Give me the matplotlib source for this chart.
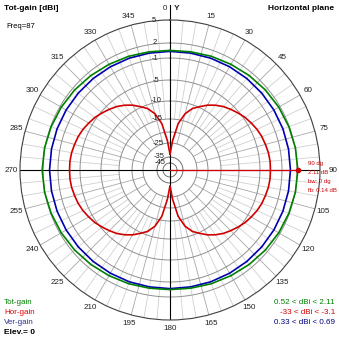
import numpy as np
import matplotlib
matplotlib.use('Agg')
import matplotlib.pyplot as plt

plt.rcParams['font.family'] = ['Liberation Sans', 'DejaVu Sans']

# ---------------- data ----------------
angles_5 = list(range(0, 360, 5))
hor_gain = [-33, -24, -16.5, -13, -11, -9.8, -8.6, -7.6, -6.7, -6.0, -5.3, -4.7, -4.3, -3.9, -3.6, -3.4, -3.2, -3.1,
            -3.1, -3.1, -3.2, -3.4, -3.6, -3.9, -4.3, -4.7, -5.3, -6.0, -6.7, -7.6, -8.6, -9.8, -11, -13, -16.5, -24,
            -33, -24, -16.5, -13, -11, -9.8, -8.6, -7.6, -6.7, -6.0, -5.3, -4.7, -4.3, -3.9, -3.6, -3.4, -3.2, -3.1,
            -3.1, -3.1, -3.2, -3.4, -3.6, -3.9, -4.3, -4.7, -5.3, -6.0, -6.7, -7.6, -8.6, -9.8, -11, -13, -16.5, -24]
angles_10 = list(range(0, 360, 10))
tot_gain = [0.52, 0.6, 0.8, 1.0, 1.25, 1.5, 1.72, 1.9, 2.05, 2.11, 2.05, 1.9, 1.72, 1.5, 1.25, 1.0, 0.8, 0.6,
            0.52, 0.6, 0.8, 1.0, 1.25, 1.5, 1.72, 1.9, 2.05, 2.11, 2.05, 1.9, 1.72, 1.5, 1.25, 1.0, 0.8, 0.6]
ver_gain = [0.33, 0.34, 0.40, 0.44, 0.49, 0.54, 0.59, 0.64, 0.67, 0.69, 0.67, 0.64, 0.59, 0.54, 0.49, 0.44, 0.40, 0.34,
            0.33, 0.34, 0.40, 0.44, 0.49, 0.54, 0.59, 0.64, 0.67, 0.69, 0.67, 0.64, 0.59, 0.54, 0.49, 0.44, 0.40, 0.34]
ring_db = [2, -1, -5, -10, -15, -20, -25, -35, -45]
ring_labels = ['5', '2', '-1', '-5', '-10', '-15', '-25', '-35', '-45']
ring_label_db = [5, 2, -1, -5, -10, -15, -25, -35, -45]
angle_ticks = list(range(15, 360, 15))
marker_angle = 90
marker_gain = 2.11
stats = ['0.52 < dBi < 2.11', '-33 < dBi < -3.1', '0.33 < dBi < 0.69']
legend = ['Tot-gain', 'Hor-gain', 'Ver-gain']

# ---------------- styles / scale ----------------
GREEN = '#008000'
RED = '#d00000'
BLUE = '#0000b0'
W = H = 339
CX, CY, R = 170, 170, 150

db_knots = [-60, -45, -35, -25, -20, -15, -10, -5, -1, 2, 5, 20]
px_knots = [0, 7, 13, 27, 38, 51, 69, 90, 112, 127, 150, 265]

def fwd(x):
    return np.interp(x, db_knots, px_knots)

def inv(y):
    return np.interp(y, px_knots, db_knots)

fig = plt.figure(figsize=(W / 100, H / 100), dpi=100)
fig.patch.set_facecolor('white')

def fx(x):
    return x / W

def fy(y):
    return 1 - y / H

ax = fig.add_axes([fx(CX - R), fy(CY + R), 2 * R / W, 2 * R / H], projection='polar')
ax.set_theta_zero_location('N')
ax.set_theta_direction(-1)
ax.set_rscale('function', functions=(fwd, inv))
ax.set_rlim(-60, 5)
ax.set_xticks([])
ax.set_yticks([])
ax.grid(False)
ax.spines['polar'].set_color('#404040')
ax.spines['polar'].set_linewidth(0.8)

th = np.linspace(0, 2 * np.pi, 721)
# spokes
for a in range(0, 360, 5):
    if a % 90 == 0:
        continue
    if a % 15 == 0:
        ax.plot([np.deg2rad(a)] * 2, [-25, 5], color='#a8a8a8', lw=0.6, zorder=1)
    else:
        ax.plot([np.deg2rad(a)] * 2, [-15, 5], color='#d0d0d0', lw=0.6, zorder=1)
# rings
for d in ring_db:
    col = '#909090' if d > -30 else '#707070'
    ax.plot(th, np.full_like(th, d), color=col, lw=0.7, zorder=1)

# axes lines
for a in (0, 90, 180, 270):
    ax.plot([np.deg2rad(a)] * 2, [-60, 5], color='black', lw=0.8, zorder=2)
ax.plot([0, 0], [5, 7], color='black', lw=0.8, zorder=2, clip_on=False)

# patterns
t5 = np.deg2rad(angles_5 + [360])
t10 = np.deg2rad(angles_10 + [360])
ax.plot(t10, tot_gain + tot_gain[:1], color=GREEN, lw=1.2, zorder=4)
ax.plot(t10, ver_gain + ver_gain[:1], color=BLUE, lw=1.2, zorder=3)
ax.plot(t5, hor_gain + hor_gain[:1], color=RED, lw=1.2, zorder=5)

# marker
ax.plot([np.deg2rad(marker_angle)] * 2, [-60, marker_gain], color=RED, lw=0.9, zorder=6)
ax.plot([np.deg2rad(marker_angle)], [marker_gain], 'o', color=RED, ms=3, zorder=7)

# ring labels
for lab, d in zip(ring_labels, ring_label_db):
    r = fwd(d)
    fig.text(fx(166 - 0.07 * r), fy(CY - r), lab, ha='right', va='center', fontsize=5.5, color='#202020')

# angle labels
rl = 159
for a in angle_ticks:
    ang = np.deg2rad(a)
    x = CX + rl * np.sin(ang)
    y = CY - rl * np.cos(ang)
    if a == 90:
        x += 4
    fig.text(fx(x), fy(y), str(a), ha='center', va='center', fontsize=5.8, color='#202020')
fig.text(fx(165), fy(9), '0', ha='center', va='center', fontsize=5.8, color='#202020')
fig.text(fx(177), fy(9), 'Y', ha='center', va='center', fontsize=6, fontweight='bold', color='#202020')

# marker annotation
ann = [f'{marker_angle} dg', f'{marker_gain} dB', 'bw: 0 dg', 'fb: 0.14 dB']
for i, s in enumerate(ann):
    fig.text(fx(308), fy(163 + 9 * i), s, ha='left', va='center', fontsize=4.3, color=RED)

# titles
fig.text(fx(4), fy(8), 'Tot-gain [dBi]', ha='left', va='center', fontsize=6, fontweight='bold')
fig.text(fx(6), fy(27), 'Freq=87', ha='left', va='center', fontsize=5.5)
fig.text(fx(334), fy(8), 'Horizontal plane', ha='right', va='center', fontsize=6, fontweight='bold')

# legend
cols = [GREEN, '#e00000', '#303090']
for i, (s, c) in enumerate(zip(legend, cols)):
    fig.text(fx(4), fy(303 + 10 * i), s, ha='left', va='center', fontsize=5.8, color=c)
fig.text(fx(4), fy(333), 'Elev.= 0', ha='left', va='center', fontsize=6, fontweight='bold')
scol = [GREEN, '#d00000', '#000080']
for i, (s, c) in enumerate(zip(stats, scol)):
    fig.text(fx(335), fy(303 + 10 * i), s, ha='right', va='center', fontsize=5.8, color=c)

fig.savefig('out.png', dpi=100, facecolor='white')
